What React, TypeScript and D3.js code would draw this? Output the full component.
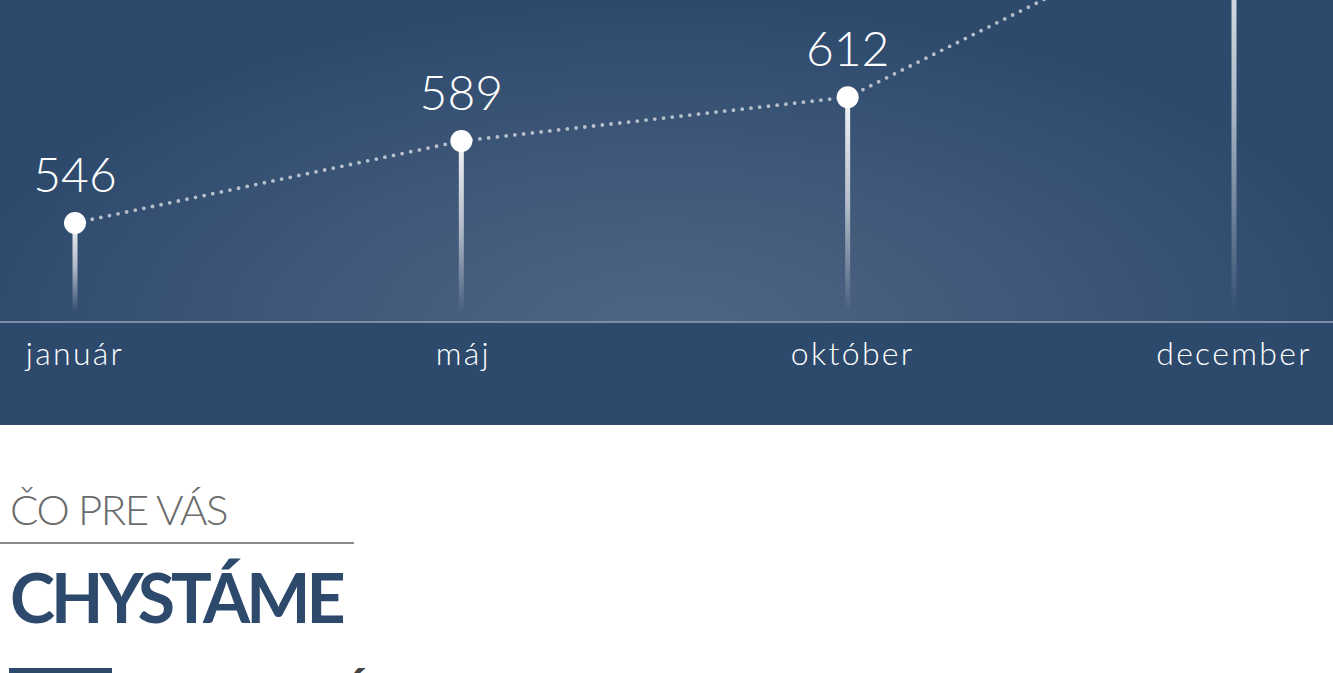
import React from "react";
import * as d3 from "d3";

const months = ["január", "máj", "október", "december"];
const values = [546, 589, 612, 713];
const heading1 = "ČO PRE VÁS";
const heading2 = "CHYSTÁME";
const heading3 = "Á";

const W = 1333;
const H = 673;
const PANEL_H = 425;
const BASE_Y = 322;
const BG = "#2d4a6d";

export default function App() {
  const x = d3.scalePoint<string>().domain(months).range([75, 1234]);
  const y = d3.scaleLinear().domain([494, 663]).range([BASE_Y, 0]);
  const pts = months.map((m, i) => [x(m) as number, y(values[i])] as [number, number]);
  const line = d3.line().curve(d3.curveLinear)(pts) || "";
  const font = "Lato, 'Open Sans', sans-serif";

  return (
    <div style={{ position: "absolute", left: 0, top: 0, width: W, height: H, overflow: "hidden" }}>
      <svg width={W} height={H} style={{ display: "block" }}>
        <defs>
          <radialGradient id="glow" gradientUnits="userSpaceOnUse" cx={665} cy={330} r={700}
            gradientTransform="translate(665 330) scale(1 0.46) translate(-665 -330)">
            <stop offset="0" stopColor="#4f6584" />
            <stop offset="0.55" stopColor="#3f5778" />
            <stop offset="1" stopColor={BG} />
          </radialGradient>
          <linearGradient id="stem" x1="0" y1="0" x2="0" y2="1">
            <stop offset="0" stopColor="#ffffff" stopOpacity={0.95} />
            <stop offset="0.5" stopColor="#ffffff" stopOpacity={0.6} />
            <stop offset="1" stopColor="#ffffff" stopOpacity={0} />
          </linearGradient>
          <clipPath id="plot">
            <rect x={0} y={0} width={W} height={BASE_Y} />
          </clipPath>
        </defs>
        <rect x={0} y={0} width={W} height={H} fill="#ffffff" />
        <rect x={0} y={0} width={W} height={PANEL_H} fill={BG} />
        <rect x={0} y={0} width={W} height={BASE_Y} fill="url(#glow)" />
        <g clipPath="url(#plot)">
          {pts.map(([px, py], i) => (
            <rect key={"s" + i} x={px - 2.5} y={py} width={5} height={312 - py} fill="url(#stem)" />
          ))}
          <path d={line} fill="none" stroke="rgba(225,228,235,0.75)" strokeWidth={3.8}
            strokeLinecap="round" strokeDasharray="0 8.8" />
          {pts.map(([px, py], i) => (
            <circle key={"c" + i} cx={px} cy={py} r={11} fill="#ffffff" />
          ))}
          {pts.map(([px, py], i) =>
            py - 31 > 40 ? (
              <text key={"v" + i} x={px} y={py - 31} textAnchor="middle" fill="#ffffff"
                fontFamily={font} fontWeight={300} fontSize={48}>{values[i]}</text>
            ) : null
          )}
        </g>
        <line x1={0} x2={W} y1={BASE_Y} y2={BASE_Y} stroke="#7d8da6" strokeWidth={2} />
        {months.map((m, i) => (
          <text key={"m" + i} x={(x(m) as number) + (i === 2 ? 5 : i === 1 ? 2 : 0)} y={365} textAnchor="middle"
            fill="#ffffff" fontFamily={font} fontWeight={300} fontSize={32} letterSpacing={2.3}>{m}</text>
        ))}
        <text x={10} y={525} fill="#6b6b6b" fontFamily={font} fontWeight={300} fontSize={42}
          letterSpacing={-1.5}>{heading1}</text>
        <line x1={0} x2={354} y1={543} y2={543} stroke="#8a8a8a" strokeWidth={2} />
        <text x={10} y={623} fill={BG} fontFamily={font} fontWeight={700} fontSize={68}
          letterSpacing={-4}>{heading2}</text>
        <rect x={9} y={668} width={103} height={10} fill={BG} />
        <text x={341} y={709} fill="#444444" fontFamily={font} fontWeight={700} fontSize={44}>{heading3}</text>
      </svg>
    </div>
  );
}
